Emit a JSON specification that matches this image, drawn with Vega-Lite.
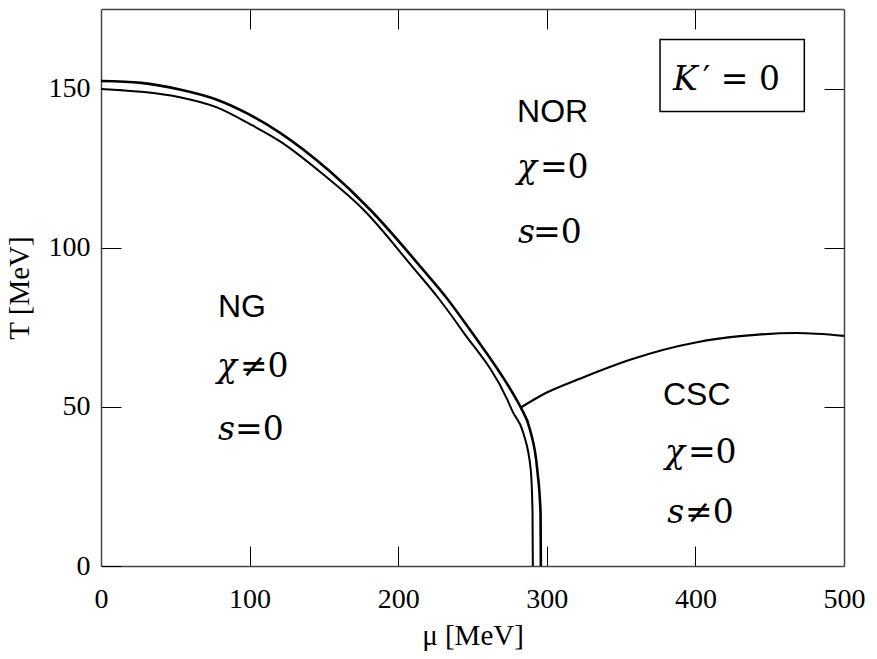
{
  "$schema": "https://vega.github.io/schema/vega-lite/v6.json",
  "width": 743,
  "height": 557,
  "autosize": {"type": "none"},
  "padding": {"left": 101, "top": 9, "right": 33, "bottom": 93},
  "background": "white",
  "config": {
    "view": {"stroke": null},
    "axis": {
      "grid": false,
      "domainColor": "#444444",
      "domainWidth": 1.5,
      "tickColor": "black",
      "tickWidth": 1,
      "tickSize": -20,
      "labelFont": "Liberation Serif",
      "labelFontSize": 28,
      "labelColor": "black",
      "labelFlush": false,
      "labelOverlap": false,
      "titleFont": "Liberation Serif",
      "titleFontSize": 29,
      "titleFontWeight": "normal",
      "titleColor": "black"
    }
  },
  "datasets": {
    "outer": [
      {"i": 0, "mu": 0, "T": 152.4},
      {"i": 1, "mu": 27, "T": 151.8},
      {"i": 2, "mu": 53, "T": 149.7},
      {"i": 3, "mu": 78, "T": 146.5},
      {"i": 4, "mu": 100, "T": 141.8},
      {"i": 5, "mu": 120.5, "T": 136.1},
      {"i": 6, "mu": 154, "T": 124.0},
      {"i": 7, "mu": 181, "T": 112},
      {"i": 8, "mu": 215.8, "T": 93.6},
      {"i": 9, "mu": 232.6, "T": 84.2},
      {"i": 10, "mu": 248.3, "T": 74.2},
      {"i": 11, "mu": 279.7, "T": 52.2},
      {"i": 12, "mu": 282.5, "T": 49.8},
      {"i": 13, "mu": 288.7, "T": 42.8},
      {"i": 14, "mu": 293.6, "T": 30.2},
      {"i": 15, "mu": 295.8, "T": 16.7},
      {"i": 16, "mu": 296, "T": 0}
    ],
    "inner": [
      {"i": 0, "mu": 0, "T": 149.9},
      {"i": 1, "mu": 27, "T": 149},
      {"i": 2, "mu": 53, "T": 147.3},
      {"i": 3, "mu": 78, "T": 144.1},
      {"i": 4, "mu": 100, "T": 138.9},
      {"i": 5, "mu": 120.5, "T": 133.4},
      {"i": 6, "mu": 149.6, "T": 123.0},
      {"i": 7, "mu": 176.5, "T": 112},
      {"i": 8, "mu": 210.3, "T": 93.6},
      {"i": 9, "mu": 227, "T": 84.2},
      {"i": 10, "mu": 242.7, "T": 74.2},
      {"i": 11, "mu": 273.5, "T": 52.2},
      {"i": 12, "mu": 277, "T": 48.5},
      {"i": 13, "mu": 284.2, "T": 41.8},
      {"i": 14, "mu": 289.2, "T": 30.2},
      {"i": 15, "mu": 290.4, "T": 16.7},
      {"i": 16, "mu": 290.6, "T": 0}
    ],
    "csc": [
      {"i": 0, "mu": 282.5, "T": 49.8},
      {"i": 1, "mu": 300, "T": 54.5},
      {"i": 2, "mu": 322, "T": 58.8},
      {"i": 3, "mu": 356, "T": 64.8},
      {"i": 4, "mu": 401, "T": 70.3},
      {"i": 5, "mu": 430, "T": 72.2},
      {"i": 6, "mu": 468, "T": 73.2},
      {"i": 7, "mu": 500, "T": 72.3}
    ],
    "names": [
      {"t": "NOR", "mu": 280, "T": 139.6},
      {"t": "NG", "mu": 78.7, "T": 78.3},
      {"t": "CSC", "mu": 378.2, "T": 50.6}
    ],
    "mathvar": [
      {"t": "χ", "mu": 280, "T": 122},
      {"t": "s", "mu": 280.6, "T": 101.6},
      {"t": "χ", "mu": 78, "T": 59.4},
      {"t": "s", "mu": 78.7, "T": 39.6},
      {"t": "χ", "mu": 379.5, "T": 32.4},
      {"t": "s", "mu": 381, "T": 13.5},
      {"t": "K", "mu": 385, "T": 149.7}
    ],
    "mathrest": [
      {"t": "=0", "mu": 295.4, "T": 122},
      {"t": "=0", "mu": 290.7, "T": 101.6},
      {"t": "≠0", "mu": 93.5, "T": 59.4},
      {"t": "=0", "mu": 90.2, "T": 39.6},
      {"t": "=0", "mu": 395, "T": 32.4},
      {"t": "≠0", "mu": 393, "T": 13.5},
      {"t": "′ = 0", "mu": 405, "T": 149.7}
    ],
    "box": [
      {"x1": 376.2, "x2": 473.3, "y1": 142.8, "y2": 165.4}
    ]
  },
  "layer": [
    {
      "data": {"name": "outer"},
      "mark": {"type": "line", "color": "black", "strokeWidth": 2.6, "interpolate": "monotone"},
      "encoding": {
        "x": {"field": "mu", "type": "quantitative", "scale": {"domain": [0, 500], "nice": false, "zero": false},
              "axis": {"orient": "bottom", "values": [0, 100, 200, 300, 400, 500], "labelPadding": 39, "title": "μ [MeV]", "titlePadding": 8}},
        "y": {"field": "T", "type": "quantitative", "scale": {"domain": [0, 175], "nice": false, "zero": false},
              "axis": {"orient": "left", "values": [0, 50, 100, 150], "labelPadding": 31, "title": "T [MeV]", "titlePadding": 14}},
        "order": {"field": "i", "type": "quantitative"}
      }
    },
    {
      "data": {"name": "inner"},
      "mark": {"type": "line", "color": "black", "strokeWidth": 2, "interpolate": "monotone"},
      "encoding": {
        "x": {"field": "mu", "type": "quantitative", "axis": null},
        "y": {"field": "T", "type": "quantitative", "axis": null},
        "order": {"field": "i", "type": "quantitative"}
      }
    },
    {
      "data": {"name": "csc"},
      "mark": {"type": "line", "color": "black", "strokeWidth": 2.2, "interpolate": "monotone"},
      "encoding": {
        "x": {"field": "mu", "type": "quantitative", "axis": null},
        "y": {"field": "T", "type": "quantitative", "axis": null},
        "order": {"field": "i", "type": "quantitative"}
      }
    },
    {
      "data": {"name": "box"},
      "mark": {"type": "rect", "fill": "white", "stroke": "black", "strokeWidth": 1.5},
      "encoding": {
        "x": {"field": "x1", "type": "quantitative",
              "axis": {"orient": "top", "values": [100, 200, 300, 400], "labels": false, "title": null}},
        "x2": {"field": "x2"},
        "y": {"field": "y1", "type": "quantitative",
              "axis": {"orient": "right", "values": [50, 100, 150], "labels": false, "title": null}},
        "y2": {"field": "y2"}
      }
    },
    {
      "data": {"name": "names"},
      "mark": {"type": "text", "font": "Liberation Sans", "fontSize": 32, "align": "left", "baseline": "alphabetic", "color": "black"},
      "encoding": {
        "x": {"field": "mu", "type": "quantitative", "axis": null},
        "y": {"field": "T", "type": "quantitative", "axis": null},
        "text": {"field": "t"}
      }
    },
    {
      "data": {"name": "mathvar"},
      "mark": {"type": "text", "font": "DejaVu Serif", "fontStyle": "italic", "fontSize": 33, "align": "left", "baseline": "alphabetic", "color": "black"},
      "encoding": {
        "x": {"field": "mu", "type": "quantitative", "axis": null},
        "y": {"field": "T", "type": "quantitative", "axis": null},
        "text": {"field": "t"}
      }
    },
    {
      "data": {"name": "mathrest"},
      "mark": {"type": "text", "font": "DejaVu Serif", "fontSize": 33, "align": "left", "baseline": "alphabetic", "color": "black"},
      "encoding": {
        "x": {"field": "mu", "type": "quantitative", "axis": null},
        "y": {"field": "T", "type": "quantitative", "axis": null},
        "text": {"field": "t"}
      }
    }
  ],
  "resolve": {"axis": {"x": "independent", "y": "independent"}}
}
